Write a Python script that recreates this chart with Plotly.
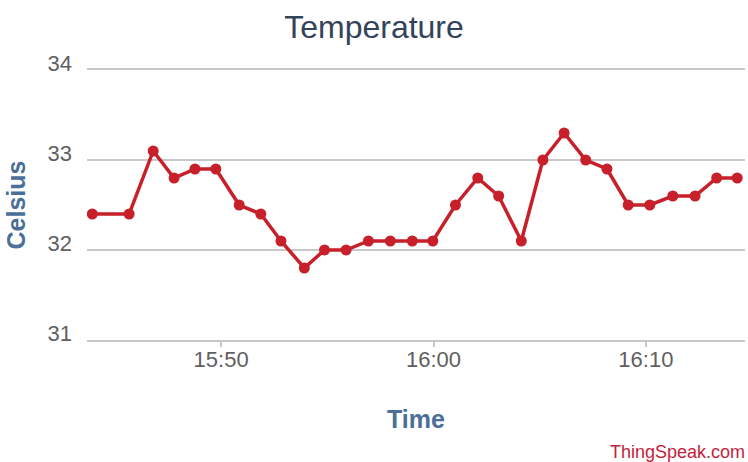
import plotly.graph_objects as go

# Data
times = [
    "2015-06-01 15:43:56", "2015-06-01 15:45:40", "2015-06-01 15:46:48", "2015-06-01 15:47:47",
    "2015-06-01 15:48:46", "2015-06-01 15:49:45", "2015-06-01 15:50:51", "2015-06-01 15:51:52",
    "2015-06-01 15:52:49", "2015-06-01 15:53:55", "2015-06-01 15:54:52", "2015-06-01 15:55:53",
    "2015-06-01 15:56:56", "2015-06-01 15:57:58", "2015-06-01 15:59:00", "2015-06-01 15:59:58",
    "2015-06-01 16:01:02", "2015-06-01 16:02:05", "2015-06-01 16:03:04", "2015-06-01 16:04:08",
    "2015-06-01 16:05:09", "2015-06-01 16:06:09", "2015-06-01 16:07:10", "2015-06-01 16:08:10",
    "2015-06-01 16:09:10", "2015-06-01 16:10:11", "2015-06-01 16:11:16", "2015-06-01 16:12:19",
    "2015-06-01 16:13:20", "2015-06-01 16:14:18",
]
celsius = [
    32.4, 32.4, 33.1, 32.8, 32.9, 32.9, 32.5, 32.4, 32.1, 31.8,
    32.0, 32.0, 32.1, 32.1, 32.1, 32.1, 32.5, 32.8, 32.6, 32.1,
    33.0, 33.3, 33.0, 32.9, 32.5, 32.5, 32.6, 32.6, 32.8, 32.8,
]
x_tickvals = ["2015-06-01 15:50:00", "2015-06-01 16:00:00", "2015-06-01 16:10:00"]
x_ticktext = ["15:50", "16:00", "16:10"]
y_tickvals = [31, 32, 33, 34]
x_range = ["2015-06-01 15:43:41", "2015-06-01 16:14:40"]
y_range = [31, 34]

FONT = "Liberation Sans, Arial, sans-serif"
LINE_RED = "#c8202a"
GRID = "#c8c8c8"

fig = go.Figure()
fig.add_trace(go.Scatter(
    x=times, y=celsius, mode="lines+markers",
    line=dict(color=LINE_RED, width=3.5),
    marker=dict(color=LINE_RED, size=11),
    hoverinfo="x+y", showlegend=False,
))

fig.update_layout(
    width=748, height=462,
    margin=dict(l=87, r=3, t=70, b=122, autoexpand=False),
    paper_bgcolor="white", plot_bgcolor="white",
    font=dict(family=FONT, color="#606060"),
    title=dict(text="Temperature", x=0.5, xanchor="center", y=1 - 27 / 462, yanchor="middle",
               yref="container", font=dict(family=FONT, size=32, color="#33435a")),
    xaxis=dict(
        type="date", range=x_range,
        tickvals=x_tickvals, ticktext=x_ticktext,
        showgrid=False, zeroline=False,
        showline=True, mirror=True, linecolor=GRID, linewidth=2,
        ticks="outside", ticklen=5, tickcolor=GRID, tickwidth=2,
        ticklabelstandoff=-6,
        tickfont=dict(family=FONT, size=22, color="#606060"),
        title=dict(text="<b>Time</b>", standoff=39,
                   font=dict(family=FONT, size=25, color="#4a6f98")),
    ),
    yaxis=dict(
        range=y_range, tickvals=y_tickvals,
        showgrid=True, gridcolor=GRID, gridwidth=2,
        zeroline=False, showline=False, ticks="",
        ticklabelstandoff=14, ticklabelshift=-7,
        tickfont=dict(family=FONT, size=22, color="#606060"),
        title=dict(text="<b>Celsius</b>", standoff=14,
                   font=dict(family=FONT, size=25, color="#4a6f98")),
    ),
    annotations=[dict(
        text="ThingSpeak.com", xref="paper", yref="paper",
        x=1, y=(340 - 452) / 270, xanchor="right", yanchor="middle", xshift=2,
        showarrow=False, font=dict(family=FONT, size=18, color="#c41e3a"),
    )],
)

fig.write_html(
    "out.html",
    config={"displayModeBar": False},
    post_script="document.body.style.margin='0px';document.body.style.overflow='hidden';",
)
